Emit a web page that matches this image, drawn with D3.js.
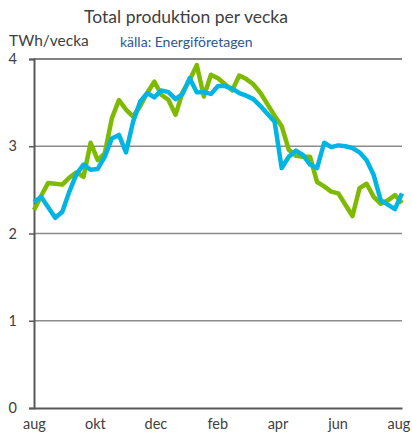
<!DOCTYPE html>
<html>
<head>
<meta charset="utf-8">
<script src="https://cdn.jsdelivr.net/npm/d3@7"></script>
<style>
    body { margin: 0; background: #ffffff; }
    svg { display: block; font-family: Lato, "Liberation Sans", sans-serif; }
</style>
</head>
<body>
<div class="chart"></div>
<script>

// veckovärden, TWh/vecka, aug -> aug
const weeks = d3.range(53);

const greenSeries = [
    2.27, 2.43, 2.58, 2.57, 2.56, 2.64, 2.70, 2.65, 3.04, 2.84,
    2.92, 3.32, 3.53, 3.42, 3.34, 3.46, 3.61, 3.74, 3.59, 3.53,
    3.36, 3.62, 3.76, 3.93, 3.57, 3.82, 3.78, 3.71, 3.64, 3.81,
    3.77, 3.71, 3.61, 3.48, 3.35, 3.23, 2.96, 2.89, 2.88, 2.88,
    2.59, 2.54, 2.48, 2.46, 2.33, 2.20, 2.52, 2.57, 2.42, 2.34,
    2.38, 2.44, 2.35
];

const blueSeries = [
    2.36, 2.42, 2.30, 2.18, 2.25, 2.48, 2.68, 2.79, 2.73, 2.74,
    2.88, 3.09, 3.13, 2.93, 3.28, 3.51, 3.61, 3.56, 3.64, 3.62,
    3.54, 3.60, 3.78, 3.62, 3.62, 3.60, 3.69, 3.69, 3.66, 3.61,
    3.58, 3.54, 3.46, 3.37, 3.28, 2.75, 2.88, 2.95, 2.90, 2.79,
    2.75, 3.04, 2.99, 3.01, 3.00, 2.98, 2.93, 2.84, 2.67, 2.38,
    2.33, 2.28, 2.46
];

const monthLabels = ["aug", "okt", "dec", "feb", "apr", "jun", "aug"];
const monthWeeks = [0, 8.6, 17.15, 25.9, 34.4, 42.9, 51.5];

const yTicks = [0, 1, 2, 3, 4];

function drawChart(){

    d3.select(".chart")
        .selectAll("*")
        .remove();

    const width = 412;
    const height = 436;

    const margin = {
        top: 59,
        right: 10,
        bottom: 28,
        left: 34
    };

    const svg = d3.select(".chart")
        .append("svg")
        .attr("width", width)
        .attr("height", height);

    const x = d3.scaleLinear()
        .domain([0, 52])
        .range([margin.left, width - margin.right]);

    const y = d3.scaleLinear()
        .domain([0, 4])
        .range([height - margin.bottom, margin.top]);

    // rubriker
    svg.append("text")
        .attr("x", 186)
        .attr("y", 23)
        .attr("text-anchor", "middle")
        .style("font-size", "17.5px")
        .style("fill", "#404040")
        .text("Total produktion per vecka");

    svg.append("text")
        .attr("x", 9)
        .attr("y", 46)
        .style("font-size", "15.5px")
        .style("fill", "#404040")
        .text("TWh/vecka");

    svg.append("text")
        .attr("x", 120)
        .attr("y", 47)
        .style("font-size", "14px")
        .style("fill", "#2F5597")
        .text("källa: Energiföretagen");

    // rutnät
    svg.append("g")
        .selectAll("line")
        .data(yTicks.filter(d => d > 0))
        .enter()
        .append("line")
        .attr("x1", x(0))
        .attr("x2", x(52))
        .attr("y1", d => y(d))
        .attr("y2", d => y(d))
        .attr("stroke", d => d === 4 ? "#595959" : "#8c8c8c")
        .attr("stroke-width", 1.5);

    const yAxis = svg.append("g")
        .attr("transform", `translate(${margin.left},0)`)
        .call(d3.axisLeft(y).tickValues(yTicks).tickSize(5).tickPadding(12).tickFormat(d3.format("d")));

    yAxis.select(".domain")
        .attr("stroke", "#595959")
        .attr("stroke-width", 2);

    yAxis.selectAll(".tick line")
        .attr("stroke", "#595959")
        .attr("stroke-width", 1.5);

    const xAxis = svg.append("g")
        .attr("transform", `translate(0,${y(0)})`)
        .call(d3.axisBottom(x).tickValues(monthWeeks).tickSize(0).tickPadding(11).tickFormat((d, i) => monthLabels[i]));

    xAxis.select(".domain")
        .attr("stroke", "#595959")
        .attr("stroke-width", 2);

    svg.selectAll(".tick text")
        .attr("fill", "#404040")
        .style("font-family", "Lato, 'Liberation Sans', sans-serif")
        .style("font-size", "14.5px");

    const line = d3.line()
        .x((d, i) => x(weeks[i]))
        .y(d => y(d));

    svg.append("path")
        .datum(greenSeries)
        .attr("fill", "none")
        .attr("stroke", "#7DBA00")
        .attr("stroke-width", 4.5)
        .attr("stroke-linejoin", "round")
        .attr("d", line);

    svg.append("path")
        .datum(blueSeries)
        .attr("fill", "none")
        .attr("stroke", "#00B4E4")
        .attr("stroke-width", 4.5)
        .attr("stroke-linejoin", "round")
        .attr("d", line);

}

drawChart();
</script>
</body>
</html>
